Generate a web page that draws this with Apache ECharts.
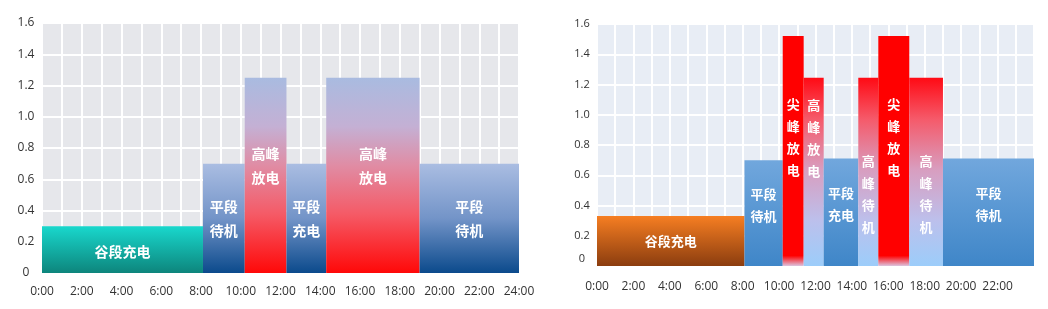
<!DOCTYPE html>
<html>
<head>
<meta charset="utf-8">
<script src="https://cdn.jsdelivr.net/npm/echarts@6/dist/echarts.min.js"></script>
<style>
html,body{margin:0;padding:0;background:#fff;}
#c{width:1048px;height:309px;}
</style>
</head>
<body>
<div id="c"></div>
<script>
// ---- data ----
const xTicks = [0, 2, 4, 6, 8, 10, 12, 14, 16, 18, 20, 22, 24];
const yTicks = [0, 0.2, 0.4, 0.6, 0.8, 1.0, 1.2, 1.4, 1.6];

const leftStart = [0, 8.1, 10.2, 12.3, 14.3, 19];
const leftEnd   = [8.1, 10.2, 12.3, 14.3, 19, 24];
const leftValue = [0.3, 0.7, 1.25, 0.7, 1.25, 0.7];
const leftLabel = ['谷段充电', '平段\n待机', '高峰\n放电', '平段\n充电', '高峰\n放电', '平段\n待机'];
const leftKind  = ['valley', 'flat', 'peak', 'flat', 'peak', 'flat'];

const rightStart = [0, 8.1, 10.2, 11.35, 12.45, 14.35, 15.45, 17.15, 19];
const rightEnd   = [8.1, 10.2, 11.35, 12.45, 14.35, 15.45, 17.15, 19, 24];
const rightValue = [0.33, 0.7, 1.52, 1.245, 0.71, 1.245, 1.52, 1.245, 0.71];
const rightLabel = ['谷段充电', '平段\n待机', '尖\n峰\n放\n电', '高\n峰\n放\n电', '平段\n充电', '高\n峰\n待\n机', '尖\n峰\n放\n电', '高\n峰\n待\n机', '平段\n待机'];
const rightKind  = ['valley', 'flat', 'sharp', 'peak', 'flat', 'peakIdle', 'sharp', 'peakIdle', 'flat'];

// ---- styles ----
function grad(stops) {
  return new echarts.graphic.LinearGradient(0, 0, 0, 1,
    stops.map(s => ({offset: s[0], color: s[1]})));
}
const leftFill = {
  valley: [[0, '#19d8cd'], [1, '#0d857c']],
  flat:   [[0, '#aabde2'], [0.5, '#7394c8'], [1, '#0b4a8c']],
  peak:   [[0, '#a9bbe0'], [0.25, '#c4b0d4'], [0.45, '#e08ca4'], [0.7, '#f55a66'], [1, '#ff0808']]
};
const rightFill = {
  valley:   [[0, '#f67e22'], [1, '#8b3d0f']],
  flat:     [[0, '#71a7dd'], [1, '#3f86c8']],
  sharp:    [[0, '#ff0000'], [0.955, '#ff0000'], [1, '#dcc4e0']],
  peak:     [[0, '#ff0a14'], [0.22, '#f55a6a'], [0.49, '#d89ec0'], [0.76, '#bcc0ec'], [1, '#9ccdfa']],
  peakIdle: [[0, '#ff0a14'], [0.22, '#f55a6a'], [0.49, '#d89ec0'], [0.76, '#bcc0ec'], [1, '#9ccdfa']]
};
const leftLabelFrac = {valley: 0.55, flat: 0.5, peak: 0.45};
const rightLabelFrac = {valley: 0.5, flat: 0.42, sharp: 0.44, peak: 0.32, peakIdle: 0.62};

function makeSeries(idx, starts, ends, values, labels, kinds, fills, fracs, fontSize, lineHeight) {
  const data = starts.map((s, i) => [s, ends[i], values[i], i]);
  return {
    type: 'custom',
    xAxisIndex: idx, yAxisIndex: idx,
    data: data,
    clip: false,
    renderItem: function (params, api) {
      const i = api.value(3);
      const p0 = api.coord([api.value(0), api.value(2)]);
      const p1 = api.coord([api.value(1), 0]);
      const x = p0[0], y = p0[1], w = p1[0] - p0[0], h = p1[1] - p0[1];
      const k = kinds[i];
      return {
        type: 'group',
        children: [
          {type: 'rect', shape: {x: x, y: y, width: w, height: h},
           style: {fill: grad(fills[k])}},
          {type: 'text', z2: 10,
           style: {text: labels[i], x: x + w / 2, y: y + h * fracs[k],
             fill: '#ffffff', fontSize: fontSize, fontWeight: 'bold',
             fontFamily: '"Noto Sans CJK SC", sans-serif',
             align: 'center', verticalAlign: 'middle', lineHeight: lineHeight}}
        ]
      };
    }
  };
}

function xAxis(idx, hideLast, margin) {
  return {
    type: 'value', gridIndex: idx, min: 0, max: 24, interval: 2,
    axisLine: {show: false}, axisTick: {show: false},
    splitLine: {show: true, lineStyle: {color: '#ffffff', width: 2}},
    minorTick: {show: false, splitNumber: 2},
    minorSplitLine: {show: true, lineStyle: {color: '#ffffff', width: 2}},
    axisLabel: {
      margin: margin, color: '#333', fontSize: 12, fontFamily: '"Open Sans", sans-serif',
      formatter: v => (hideLast && v === 24) ? '' : (v + ':00')
    }
  };
}
function yAxis(idx, margin, fontSize, zeroPad) {
  return {
    type: 'value', gridIndex: idx, min: 0, max: 1.6, interval: 0.2,
    axisLine: {show: false}, axisTick: {show: false},
    splitLine: {show: true, lineStyle: {color: '#ffffff', width: 2}},
    axisLabel: {
      margin: margin, color: '#333', fontSize: fontSize, align: 'center',
      fontFamily: '"Open Sans", sans-serif',
      formatter: v => v === 0 ? '{z|0}' : v.toFixed(1),
      rich: {z: {fontSize: fontSize, color: '#333', padding: [0, 0, zeroPad, 0],
                 fontFamily: '"Open Sans", sans-serif'}}
    }
  };
}

const chart = echarts.init(document.getElementById('c'), null, {renderer: 'canvas'});
chart.setOption({
  animation: false,
  backgroundColor: '#ffffff',
  grid: [
    {left: 42, top: 23, width: 477, height: 250, show: true, backgroundColor: '#e6e7eb', borderWidth: 0},
    {left: 597, top: 24, width: 437, height: 242, show: true, backgroundColor: '#e8edf5', borderWidth: 0}
  ],
  xAxis: [xAxis(0, false, 13), xAxis(1, true, 15)],
  yAxis: [yAxis(0, 16, 12, 0), yAxis(1, 15, 11, 14)],
  series: [
    makeSeries(0, leftStart, leftEnd, leftValue, leftLabel, leftKind, leftFill, leftLabelFrac, 14, 24),
    makeSeries(1, rightStart, rightEnd, rightValue, rightLabel, rightKind, rightFill, rightLabelFrac, 13, 22)
  ]
});
</script>
</body>
</html>
